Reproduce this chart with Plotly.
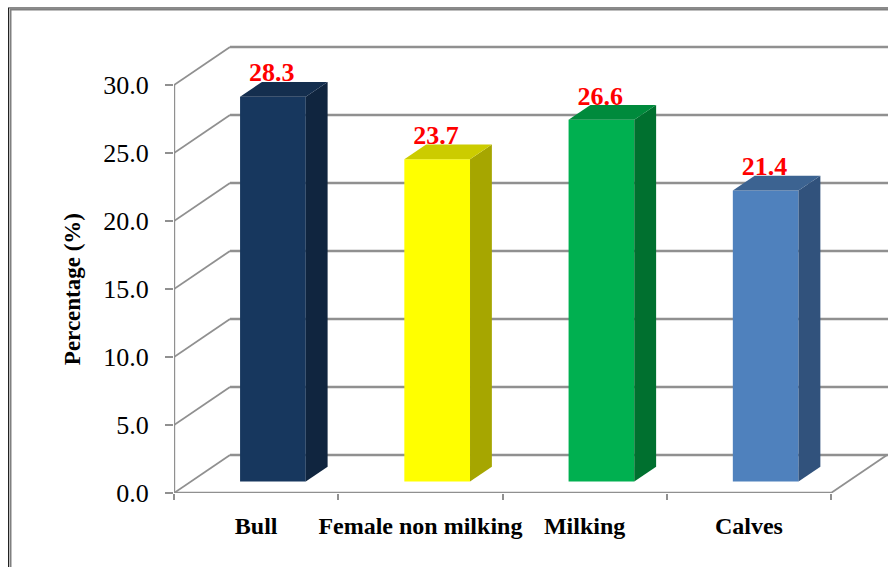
import plotly.graph_objects as go

# Chart data
categories = ["Bull", "Female non milking", "Milking", "Calves"]
percentages = [28.3, 23.7, 26.6, 21.4]
y_ticks = [0, 5, 10, 15, 20, 25, 30]
y_tick_labels = ["0.0", "5.0", "10.0", "15.0", "20.0", "25.0", "30.0"]

# Colours per bar: front, side and top faces
front_colors = ["#17375E", "#FFFF00", "#00B050", "#4F81BD"]
side_colors = ["#10253F", "#A6A600", "#00702F", "#31527C"]
top_colors = ["#142E4E", "#CCCC00", "#008A3C", "#3C6391"]

GRID = "#909090"
SERIF = "Liberation Serif"

# Canvas and scale: one category is 164.25 px, one percentage point 13.59 px
WIDTH, HEIGHT = 888, 567
LEFT, BOTTOM, TOP = 174, 74.3, 40
CAT_PX, VAL_PX = 164.25, 13.59
plot_w = WIDTH - LEFT
plot_h = HEIGHT - BOTTOM - TOP
x_max = plot_w / CAT_PX
y_max = plot_h / VAL_PX

# Oblique projection of the depth axis, in data units
DEPTH_X = 56 / CAT_PX
DEPTH_Y = 38 / VAL_PX
BAR_WIDTH = 0.4
BAR_NEAR = 0.30   # bar front, as a fraction of the floor depth
BAR_FAR = 0.69    # bar back
LABEL_DROP = 6 / VAL_PX  # value labels sit close against the bar top


def project(x, y, depth):
    return x + depth * DEPTH_X, y + depth * DEPTH_Y


fig = go.Figure()

# Walls and floor sit below the bars
shapes = []


def seg(p0, p1, width=2):
    shapes.append(dict(type="line", xref="x", yref="y", layer="below",
                       x0=p0[0], y0=p0[1], x1=p1[0], y1=p1[1],
                       line=dict(color=GRID, width=width)))


n_cat = len(categories)
for v in y_ticks:
    back = project(0, v, 1)
    seg((0, v), back, 1.8)
    seg(back, (x_max, back[1]), 2.4)
seg((0, 0), (0, y_ticks[-1]), 2.4)
seg((0, 0), (n_cat, 0), 2.4)
seg((n_cat, 0), project(n_cat, 0, 1), 1.8)

# Outer frame of the picture, in page pixels
def frame(x0, y0, x1, y1, color, width):
    shapes.append(dict(type="line", xref="paper", yref="paper",
                       x0=(x0 - LEFT) / plot_w, x1=(x1 - LEFT) / plot_w,
                       y0=(HEIGHT - BOTTOM - y0) / plot_h, y1=(HEIGHT - BOTTOM - y1) / plot_h,
                       line=dict(color=color, width=width)))


frame(8.5, 8, 8.5, HEIGHT, "#222222", 1)
frame(10.5, 9, 10.5, HEIGHT, "#808080", 2)
frame(8, 8, WIDTH, 8, "#222222", 1)
frame(10, 9.5, WIDTH, 9.5, "#808080", 2)

# Front faces
front_x = []
base_y = []
for i in range(n_cat):
    x, y = project(i + 0.5, 0, BAR_NEAR)
    front_x.append(x)
    base_y.append(y)

fig.add_trace(go.Bar(x=front_x, y=percentages, base=base_y, width=BAR_WIDTH,
                     marker=dict(color=front_colors, line=dict(width=0)),
                     hoverinfo="skip", showlegend=False))

# Side and top faces follow each bar's value
depth_span = BAR_FAR - BAR_NEAR
for i, v in enumerate(percentages):
    xl = front_x[i] - BAR_WIDTH / 2
    xr = front_x[i] + BAR_WIDTH / 2
    y0 = base_y[i]
    y1 = y0 + v
    dx = depth_span * DEPTH_X
    dy = depth_span * DEPTH_Y
    fig.add_trace(go.Scatter(x=[xr, xr + dx, xr + dx, xr, xr], y=[y0, y0 + dy, y1 + dy, y1, y0],
                             mode="lines", fill="toself", fillcolor=side_colors[i],
                             line=dict(width=0), hoverinfo="skip", showlegend=False))
    fig.add_trace(go.Scatter(x=[xl, xr, xr + dx, xl + dx, xl], y=[y1, y1, y1 + dy, y1 + dy, y1],
                             mode="lines", fill="toself", fillcolor=top_colors[i],
                             line=dict(width=0), hoverinfo="skip", showlegend=False))

# Value labels
label_y = [base_y[i] + v + depth_span * DEPTH_Y - LABEL_DROP for i, v in enumerate(percentages)]
fig.add_trace(go.Scatter(x=[x - 1.2 / CAT_PX for x in front_x], y=label_y, mode="text",
                         text=[f"{v:.1f}" for v in percentages], textposition="top center",
                         textfont=dict(family=SERIF, size=26, color="#FF0000", weight="bold"),
                         hoverinfo="skip", showlegend=False, cliponaxis=False))

fig.update_layout(
    width=WIDTH, height=HEIGHT,
    margin=dict(l=LEFT, r=0, t=TOP, b=BOTTOM, autoexpand=False),
    paper_bgcolor="white", plot_bgcolor="white",
    shapes=shapes,
    xaxis=dict(range=[0, x_max], showgrid=False, zeroline=False, showline=False,
               tickmode="array", tickvals=[i + 0.5 for i in range(n_cat)], ticktext=categories,
               ticks="", ticklen=0, tickangle=0, ticklabelstandoff=16,
               tickfont=dict(family=SERIF, size=24, color="black", weight="bold"),
               minor=dict(tickmode="array", tickvals=list(range(n_cat + 1)),
                          ticks="outside", ticklen=6, tickwidth=2, tickcolor=GRID, showgrid=False)),
    yaxis=dict(range=[0, y_max], showgrid=False, zeroline=False, showline=False,
               tickmode="array", tickvals=y_ticks, ticktext=y_tick_labels,
               ticks="outside", ticklen=8, tickwidth=2, tickcolor=GRID, ticklabelstandoff=11,
               tickfont=dict(family=SERIF, size=26, color="black")),
    annotations=[dict(text="<b>Percentage (%)</b>", textangle=-90, showarrow=False,
                      xref="paper", yref="paper", xanchor="center", yanchor="middle",
                      x=(72 - LEFT) / plot_w, y=(HEIGHT - BOTTOM - 289) / plot_h,
                      font=dict(family=SERIF, size=23, color="black"))],
)

fig.write_html("out.html")
